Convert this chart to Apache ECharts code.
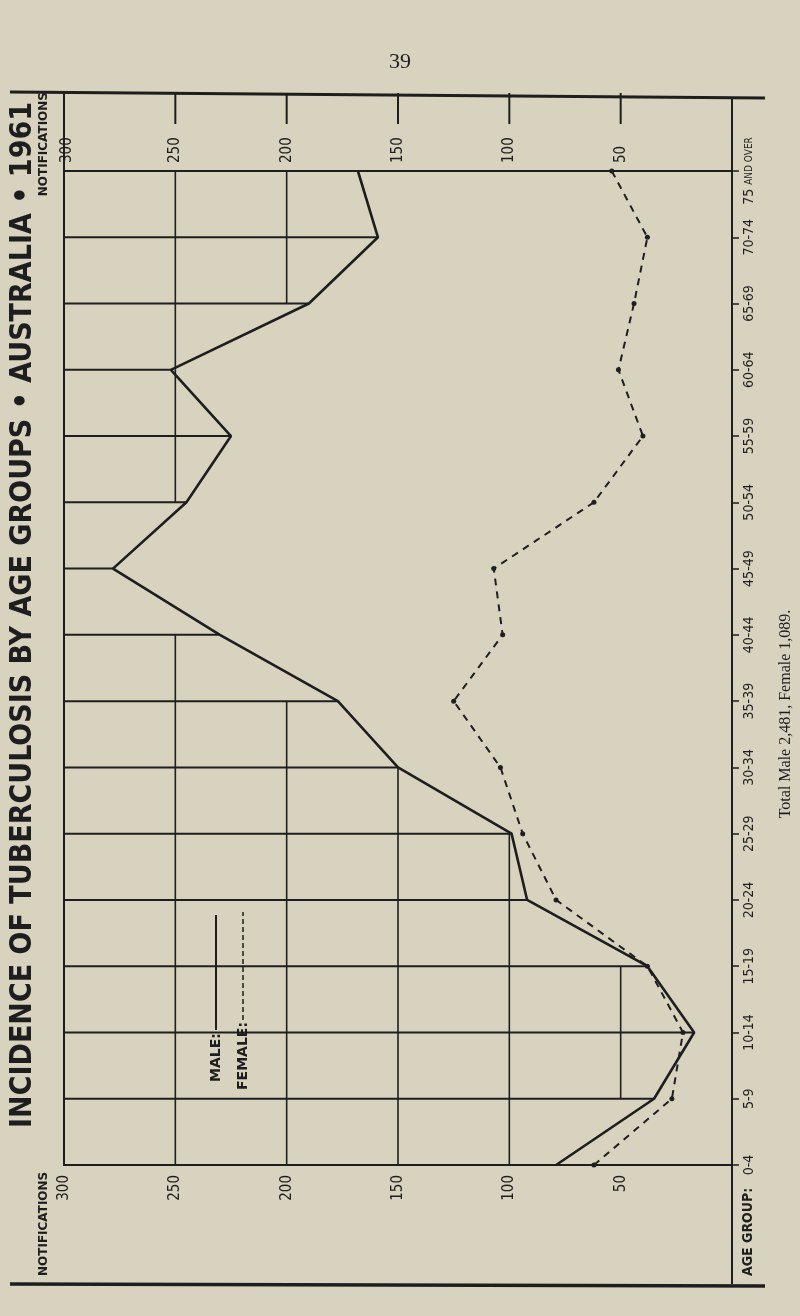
<!DOCTYPE html>
<html>
<head>
<meta charset="utf-8">
<script src="https://cdn.jsdelivr.net/npm/echarts@6/dist/echarts.min.js"></script>
<style>
  html, body { margin: 0; padding: 0; background: #d8d3bf; }
  #main { width: 800px; height: 1316px; }
</style>
</head>
<body>
<div id="main"></div>
<script>
// age groups, bottom to top
const ageGroups = ['0-4', '5-9', '10-14', '15-19', '20-24', '25-29', '30-34', '35-39',
  '40-44', '45-49', '50-54', '55-59', '60-64', '65-69', '70-74', '75 AND OVER'];
const male = [79, 35, 17, 38, 92, 99, 150, 177, 230, 278, 245, 225, 252, 190, 159, 168];
const female = [62, 27, 22, 38, 79, 94, 104, 125, 103, 107, 62, 40, 51, 44, 38, 54];
const notificationTicks = [300, 250, 200, 150, 100, 50];

const ink = '#1e1e1e';
const chart = echarts.init(document.getElementById('main'));

const xAxisBase = {
  type: 'value', min: 0, max: 300, interval: 50, inverse: true,
  splitLine: { show: false }, axisLine: { show: false }, axisTick: { show: false },
  axisLabel: {
    rotate: 90, margin: 10, color: ink, fontFamily: 'DejaVu Sans Condensed', fontSize: 15,
    formatter: v => (v === 0 ? '' : v)
  }
};

// grid lines that stop at the male curve
function gridItem(params, api) {
  const children = [];
  const line = (a, b, w) => children.push({
    type: 'line', shape: { x1: a[0], y1: a[1], x2: b[0], y2: b[1] },
    style: { stroke: ink, lineWidth: w }
  });
  for (let i = 1; i < male.length - 1; i++) {
    line(api.coord([300, i]), api.coord([male[i], i]), 2);
  }
  notificationTicks.slice(1).forEach(v => {
    for (let i = 0; i < male.length - 1; i++) {
      const a = male[i], b = male[i + 1];
      let t0 = 0, t1 = 1;
      if (a >= v && b >= v) continue;
      if (a < v && b >= v) t1 = (v - a) / (b - a);
      if (a >= v && b < v) t0 = (v - a) / (b - a);
      line(api.coord([v, i + t0]), api.coord([v, i + t1]), 1.6);
    }
  });
  return { type: 'group', children };
}

chart.setOption({
  backgroundColor: '#d8d3bf',
  animation: false,
  grid: { left: 64, right: 68, top: 171, bottom: 151, show: true, borderColor: ink, borderWidth: 2, backgroundColor: 'transparent' },
  xAxis: [
    Object.assign({}, xAxisBase, { position: 'top', axisLabel: { show: false } }),
    Object.assign({}, xAxisBase, { position: 'bottom' })
  ],
  yAxis: {
    type: 'category', data: ageGroups, boundaryGap: false, position: 'right',
    axisLine: { show: true, lineStyle: { color: ink, width: 2 } },
    axisTick: { show: true, length: 7, interval: 0, lineStyle: { color: ink, width: 1.5 } },
    axisLabel: {
      rotate: 90, margin: 10, interval: 0, color: ink, fontFamily: 'DejaVu Sans Condensed', fontSize: 14,
      formatter: v => (v === '75 AND OVER' ? '{b|75} {s|AND OVER}' : v),
      rich: { b: { fontSize: 14, color: ink, fontFamily: 'DejaVu Sans Condensed' }, s: { fontSize: 10, color: ink, fontFamily: 'DejaVu Sans Condensed' } }
    }
  },
  series: [
    { type: 'custom', renderItem: gridItem, data: [0], silent: true, z: 1 },
    {
      name: 'Male', type: 'line', data: male, symbol: 'none',
      lineStyle: { color: ink, width: 2.6 }, z: 3
    },
    {
      name: 'Female', type: 'line', data: female, symbol: 'circle', symbolSize: 5,
      itemStyle: { color: ink }, lineStyle: { color: ink, width: 2, type: [7, 6] }, z: 3
    }
  ]
});

// frame, header ticks and texts
const g = [];
const seg = (x1, y1, x2, y2, w) => g.push({ type: 'line', shape: { x1, y1, x2, y2 }, style: { stroke: ink, lineWidth: w }, silent: true });
const txt = (x, y, text, font, rot, align) => g.push({
  type: 'text', x, y, rotation: rot, silent: true,
  style: { text, font, fill: ink, align: align || 'center', verticalAlign: 'middle' }
});
seg(10, 92, 765, 98, 3);
seg(64, 92, 64, 171, 2);
seg(732, 97, 732, 1284, 2);
seg(10, 1284, 765, 1286, 3.5);
notificationTicks.forEach(v => {
  const x = chart.convertToPixel({ xAxisIndex: 0 }, v);
  seg(x, 93, x, 124, 2);
  txt(x + (v === 300 ? 3 : 0), 163, String(v), '15px "DejaVu Sans Condensed"', Math.PI / 2, 'left');
});
txt(400, 62, '39', '22px "Liberation Serif"', 0);
txt(23, 615, 'INCIDENCE OF TUBERCULOSIS BY AGE GROUPS • AUSTRALIA • 1961', 'bold 30px "DejaVu Sans Condensed"', Math.PI / 2);
txt(44, 92, 'NOTIFICATIONS', 'bold 12px "DejaVu Sans"', Math.PI / 2, 'right');
txt(44, 1276, 'NOTIFICATIONS', 'bold 12px "DejaVu Sans"', Math.PI / 2, 'left');
txt(748, 1276, 'AGE GROUP:', 'bold 14px "DejaVu Sans Condensed"', Math.PI / 2, 'left');
txt(786, 714, 'Total Male 2,481, Female 1,089.', '16px "Liberation Serif"', Math.PI / 2);
txt(216, 1082, 'MALE:', 'bold 14px "DejaVu Sans"', Math.PI / 2, 'left');
txt(243, 1090, 'FEMALE:', 'bold 14px "DejaVu Sans"', Math.PI / 2, 'left');
seg(216, 1030, 216, 915, 2);
g.push({ type: 'line', shape: { x1: 243, y1: 1020, x2: 243, y2: 912 }, style: { stroke: ink, lineWidth: 1.5, lineDash: [5, 3] }, silent: true });
chart.setOption({ graphic: g });
</script>
</body>
</html>
